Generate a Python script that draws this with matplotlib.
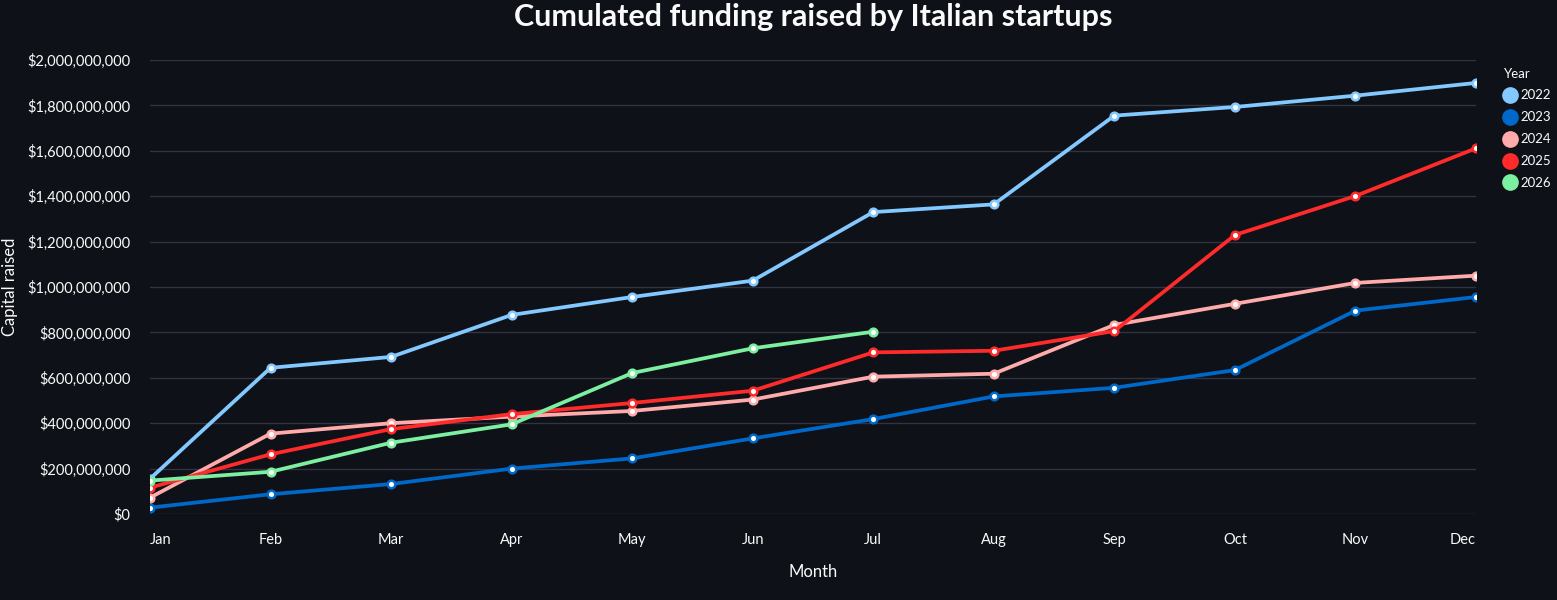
import matplotlib.pyplot as plt
from matplotlib.lines import Line2D
from matplotlib.ticker import FuncFormatter

# colori in stile streamlit (tema scuro)
BG = "#0e1117"
GRID = "#31333f"
TEXT = "#fafafa"

months = ["Jan", "Feb", "Mar", "Apr", "May", "Jun",
          "Jul", "Aug", "Sep", "Oct", "Nov", "Dec"]
years = ["2022", "2023", "2024", "2025", "2026"]
colors = ["#83c9ff", "#0068c9", "#ffabab", "#ff2b2b", "#7defa1"]

# valori cumulati in milioni di dollari
funding_2022 = [155, 644, 692, 877, 956, 1028, 1330, 1364, 1755, 1793, 1843, 1899]
funding_2023 = [28, 87, 132, 200, 245, 333, 418, 518, 556, 634, 896, 956]
funding_2024 = [72, 354, 400, 429, 454, 504, 605, 618, 833, 926, 1018, 1050]
funding_2025 = [116, 263, 374, 440, 489, 543, 712, 719, 806, 1229, 1401, 1611]
funding_2026 = [147, 186, 314, 395, 621, 730, 803]

series = [funding_2022, funding_2023, funding_2024, funding_2025, funding_2026]

plt.rcParams['font.family'] = ['Lato', 'DejaVu Sans']

fig = plt.figure(figsize=(15.57, 6.0), dpi=100, facecolor=BG)
ax = fig.add_axes([150 / 1557, 86 / 600, 1326 / 1557, 454 / 600])
ax.set_facecolor(BG)

for year, values, color in zip(years, series, colors):
    xs = list(range(len(values)))
    ys = [v * 1e6 for v in values]
    ax.plot(xs, ys, color=color, linewidth=2.7, marker='o', markersize=5.5,
            markerfacecolor='white', markeredgecolor=color, markeredgewidth=1.8,
            label=year, solid_capstyle='round')

ax.set_xlim(0, len(months) - 1)
ax.set_ylim(0, 2e9)
ax.set_xticks(range(len(months)))
ax.set_xticklabels(months)
ax.set_yticks([i * 2e8 for i in range(11)])
ax.yaxis.set_major_formatter(FuncFormatter(lambda v, p: f"${v:,.0f}"))

ax.grid(axis='y', color=GRID, linewidth=1)
ax.set_axisbelow(True)
for s in ax.spines.values():
    s.set_visible(False)
ax.tick_params(length=0, colors=TEXT, labelsize=10.5)
ax.tick_params(axis='x', pad=14)
ax.tick_params(axis='y', pad=14)

# prima e ultima etichetta allineate ai bordi
xlabels = ax.get_xticklabels()
xlabels[0].set_ha('left')
xlabels[-1].set_ha('right')

ax.set_xlabel("Month", color=TEXT, fontsize=12, labelpad=12)
fig.text(10 / 1557, 1 - 287 / 600, "Capital raised", rotation=90,
         ha='center', va='center', color=TEXT, fontsize=12)

# titolo centrato sull'area del grafico
fig.text(813 / 1557, 1 - 17 / 600, "Cumulated funding raised by Italian startups",
         ha='center', va='center', color=TEXT, fontsize=22, weight='bold')

# legenda
handles = [Line2D([], [], linestyle='none', marker='o', markersize=11,
                  markerfacecolor=c, markeredgecolor=c) for c in colors]
leg = fig.legend(handles, years, title="Year", loc='upper left',
                 bbox_to_anchor=(1497 / 1557, 1 - 61 / 600), frameon=False,
                 fontsize=9.5, title_fontsize=9.5, handletextpad=0.3,
                 handlelength=1.0, labelspacing=0.75, borderpad=0,
                 alignment='left', labelcolor=TEXT)
leg.get_title().set_color(TEXT)

fig.savefig("out.png", dpi=100, facecolor=BG)
